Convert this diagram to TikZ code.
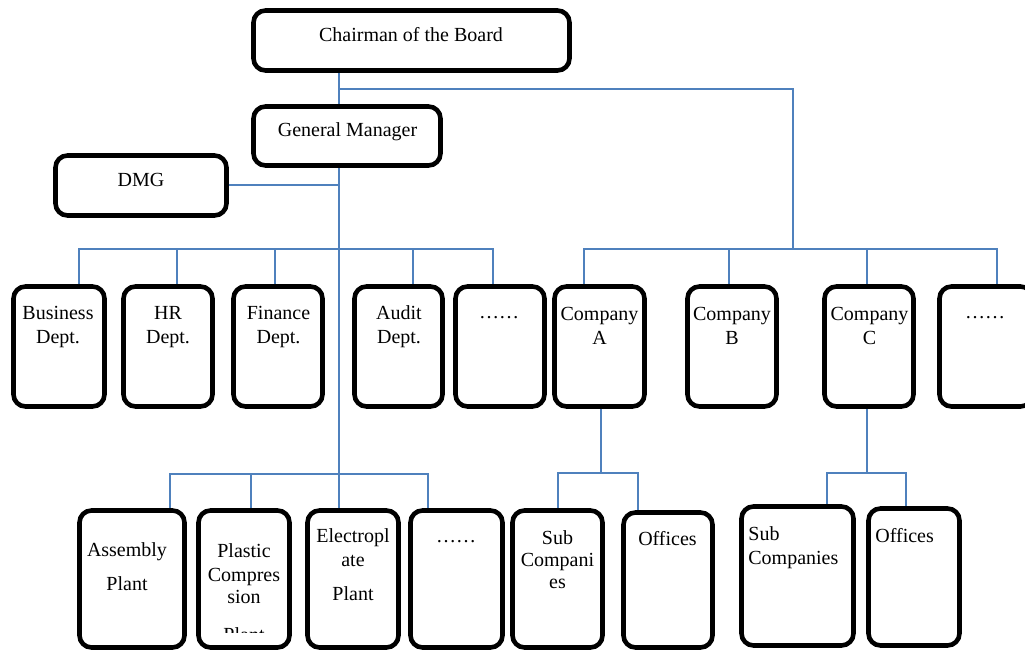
\documentclass[tikz,border=0pt]{standalone}
\usepackage{fontspec}
\setmainfont{Liberation Serif}
\usepackage{tikz}
\usetikzlibrary{positioning}
\definecolor{linkblue}{RGB}{79,129,189}

\begin{document}
\begin{tikzpicture}[x=0.5pt, y=-0.5pt,
  font=\fontsize{10}{12}\selectfont,
  box/.style={draw, fill=white, line width=2.3pt, rounded corners=6pt, inner sep=0pt},
  link/.style={draw=linkblue, line width=1pt},
  txt/.style={anchor=base, align=center, inner sep=0pt}]
  \useasboundingbox (0,0) rectangle (1025,652);

  % top of the chart
  \coordinate (cj) at (339,89);
  \coordinate (cb) at (793,249);
  \coordinate (pj) at (339,474);

  \node (chair) at (411.5,40.5) [box, minimum width=158pt, minimum height=30pt] {};
  \node (gm) at (347,136) [box, minimum width=93.5pt, minimum height=29.5pt] {};
  \node (dmg) at (141,185.5) [box, minimum width=85.5pt, minimum height=30pt] {};

  \draw [link] (chair.south -| cj) -- (gm.north -| cj);
  \draw [link] (cj) -| (cb);
  \draw [link] (gm.south -| pj) -- (pj);
  \draw [link] (dmg.east) -- (dmg.east -| cj);

  % departments and companies
  \node (busd) at (59,346.5) [box, minimum width=45.5pt, minimum height=60pt] {};
  \node (hr) at (168,346.5) [box, minimum width=44.5pt, minimum height=60pt] {};
  \node (fin) at (278,346.5) [box, minimum width=44.5pt, minimum height=60pt] {};
  \node (aud) at (398.5,346.5) [box, minimum width=44pt, minimum height=60pt] {};
  \node (dotsd) at (500,346.5) [box, minimum width=44.5pt, minimum height=60pt] {};
  \node (compa) at (599.5,346.5) [box, minimum width=45pt, minimum height=60pt] {};
  \node (compb) at (732,346.5) [box, minimum width=44.5pt, minimum height=60pt] {};
  \node (compc) at (869,346.5) [box, minimum width=44.5pt, minimum height=60pt] {};
  \node (dotsc) at (986,346.5) [box, minimum width=46.5pt, minimum height=60pt] {};

  \draw [link] (busd.north -| 79,0) -- (79,249) -- (493,249) -- (dotsd.north -| 493,0);
  \draw [link] (hr.north -| 177,0) -- (177,249);
  \draw [link] (fin.north -| 275,0) -- (275,249);
  \draw [link] (aud.north -| 413,0) -- (413,249);
  \draw [link] (compa.north -| 584,0) -- (584,249) -- (997,249) -- (dotsc.north -| 997,0);
  \draw [link] (compb.north -| 729,0) -- (729,249);
  \draw [link] (compc.north -| 867,0) -- (867,249);

  % plants and sub units
  \node (asm) at (132,579) [box, minimum width=52.5pt, minimum height=68.5pt] {};
  \node (plas) at (244,579) [box, minimum width=45.5pt, minimum height=68.5pt] {};
  \node (elec) at (353,579) [box, minimum width=45.5pt, minimum height=68.5pt] {};
  \node (dotsp) at (456.5,579) [box, minimum width=46pt, minimum height=68.5pt] {};
  \node (suba) at (557.5,579) [box, minimum width=45pt, minimum height=68.5pt] {};
  \node (offa) at (668,580) [box, minimum width=44.5pt, minimum height=67.5pt] {};
  \node (subc) at (797.5,576) [box, minimum width=56pt, minimum height=69.5pt] {};
  \node (offc) at (914,577) [box, minimum width=45.5pt, minimum height=68.5pt] {};

  \draw [link] (asm.north -| 170,0) -- (170,474) -- (428,474) -- (dotsp.north -| 428,0);
  \draw [link] (plas.north -| 251,0) -- (251,474);
  \draw [link] (elec.north -| pj) -- (pj);
  \draw [link] (compa.south -| 601,0) -- (601,473);
  \draw [link] (suba.north -| 558,0) -- (558,473) -- (638,473) -- (offa.north -| 638,0);
  \draw [link] (compc.south -| 867,0) -- (867,473);
  \draw [link] (subc.north -| 827,0) -- (827,473) -- (906,473) -- (offc.north -| 906,0);

  % labels (multi-line ones sit on their last line)
  \node (chairT) at (411,42) [txt] {Chairman of the Board};
  \node (gmT) at (347.5,137) [txt] {General Manager};
  \node (dmgT) at (141,187) [txt] {DMG};
  \node (busdT) at (58,344) [txt] {Business\\Dept.};
  \node (hrT) at (168,344) [txt] {HR\\Dept.};
  \node (finT) at (278.5,344) [txt] {Finance\\Dept.};
  \node (audT) at (399,344) [txt] {Audit\\Dept.};
  \node (dotsdT) at (499,319) [txt] {……};
  \node (compaT) at (599.5,345) [txt] {Company\\A};
  \node (compbT) at (732,345) [txt] {Company\\B};
  \node (compcT) at (869.5,345) [txt] {Company\\C};
  \node (dotscT) at (985,319) [txt] {……};
  \node (asmT) at (127,591) [txt] {Assembly\\[5pt]Plant};
  \begin{scope}
    \clip (200,500) rectangle (290,633);
    \node (plasT) at (244,642) [txt] {Plastic\\Compres\\[-1pt]sion\\[7pt]Plant};
  \end{scope}
  \node (elecT) at (353,601) [txt] {Electropl\\ate\\[5pt]Plant};
  \node (dotspT) at (456,543) [txt] {……};
  \node (subaT) at (557.5,589) [txt] {Sub\\[-1pt]Compani\\[-1pt]es};
  \node (offaT) at (667.5,546) [txt] {Offices};
  \node (subcT) at (748,565) [txt, anchor=base west, align=left] {Sub\\Companies};
  \node (offcT) at (875,543) [txt, anchor=base west] {Offices};
\end{tikzpicture}
\end{document}
